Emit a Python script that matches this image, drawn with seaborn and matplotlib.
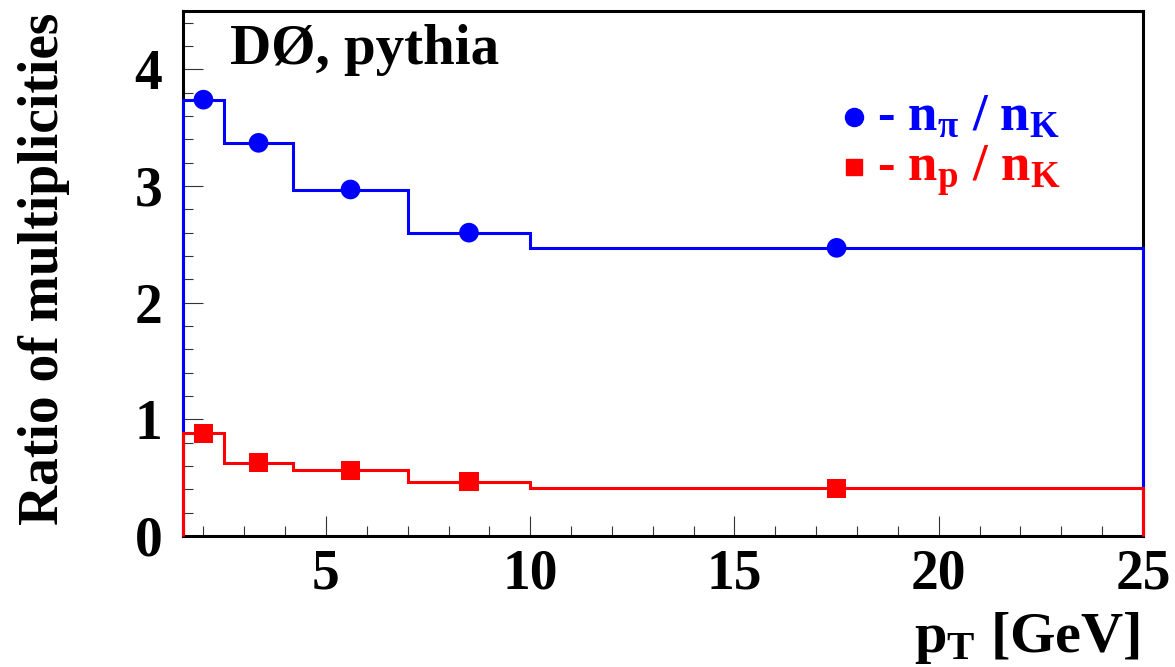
import matplotlib
matplotlib.use("Agg")
import matplotlib.pyplot as plt
from matplotlib.ticker import MultipleLocator
import seaborn as sns
import pandas as pd

# bin edges in pT [GeV] and bin contents
pt_edges = [1.5, 2.5, 4.2, 7.0, 10.0, 25.0]
pt_centers = [2.0, 3.35, 5.6, 8.5, 17.5]
ratio_pi_k = [3.74, 3.37, 2.97, 2.60, 2.47]
ratio_p_k = [0.88, 0.63, 0.565, 0.465, 0.41]

sns.set_style("white")
plt.rcParams["font.family"] = ["Liberation Serif", "DejaVu Serif"]
plt.rcParams["font.weight"] = "bold"
plt.rcParams["text.color"] = "black"
plt.rcParams["axes.labelcolor"] = "black"
plt.rcParams["xtick.color"] = "black"
plt.rcParams["ytick.color"] = "black"
plt.rcParams["mathtext.fontset"] = "custom"
plt.rcParams["mathtext.rm"] = "Liberation Serif:bold"
plt.rcParams["mathtext.it"] = "Liberation Serif:bold"
plt.rcParams["mathtext.bf"] = "Liberation Serif:bold"

df = pd.DataFrame({"pt": pt_centers, "pi_k": ratio_pi_k, "p_k": ratio_p_k})

fig = plt.figure(figsize=(11.75, 6.67), dpi=100)
ax = fig.add_axes([183 / 1175, 1 - 536 / 667, 960 / 1175, 525 / 667])

# histogram outlines (drop to zero at both ends, like ROOT)
ax.stairs(ratio_pi_k, pt_edges, baseline=0, color="blue", lw=2.2, zorder=3, clip_on=False)
ax.stairs(ratio_p_k, pt_edges, baseline=0, color="red", lw=2.2, zorder=3.1, clip_on=False)

sns.scatterplot(data=df, x="pt", y="pi_k", ax=ax, marker="o", s=200, color="blue",
                edgecolor="none", zorder=4)
sns.scatterplot(data=df, x="pt", y="p_k", ax=ax, marker="s", s=190, color="red",
                edgecolor="none", zorder=4)

ax.set_xlim(1.5, 25)
ax.set_ylim(0, 4.5)
ax.xaxis.set_major_locator(MultipleLocator(5))
ax.xaxis.set_minor_locator(MultipleLocator(1))
ax.yaxis.set_major_locator(MultipleLocator(1))
ax.yaxis.set_minor_locator(MultipleLocator(0.2))
ax.tick_params(which="both", direction="in", bottom=True, left=True, top=False, right=False,
               color="#333333", width=0.8, labelsize=40)
ax.tick_params(which="major", length=14.5)
ax.tick_params(which="minor", length=7.2)
ax.tick_params(axis="x", pad=9)
ax.tick_params(axis="y", pad=15)

for side in ["top", "bottom", "left", "right"]:
    ax.spines[side].set_linewidth(2.2)
    ax.spines[side].set_color("black")

ax.set_xlabel(r"$\mathregular{p_T}$ [GeV]", fontsize=42, fontweight="bold", loc="right")
ax.xaxis.set_label_coords(0.997, -0.14)
ax.set_ylabel("Ratio of multiplicities", fontsize=40, fontweight="bold", loc="top")
ax.yaxis.set_label_coords(-0.118, 0.996)

ax.text(0.049, 0.90, "DØ, pythia", transform=ax.transAxes, fontsize=41,
        fontweight="bold", va="baseline", ha="left")

# legend drawn the ROOT way: marker followed by coloured text
ax.plot([0.699], [0.799], transform=ax.transAxes, marker="o", ms=13, color="blue",
        ls="none", clip_on=False)
ax.plot([0.699], [0.703], transform=ax.transAxes, marker="s", ms=12, color="red",
        ls="none", clip_on=False)
ax.text(0.723, 0.773, r"- $\mathregular{n_{π}}$ / $\mathregular{n_K}$", transform=ax.transAxes,
        fontsize=38, color="blue", va="baseline", ha="left")
ax.text(0.723, 0.677, r"- $\mathregular{n_p}$ / $\mathregular{n_K}$", transform=ax.transAxes,
        fontsize=38, color="red", va="baseline", ha="left")

fig.savefig("out.png", dpi=100)
